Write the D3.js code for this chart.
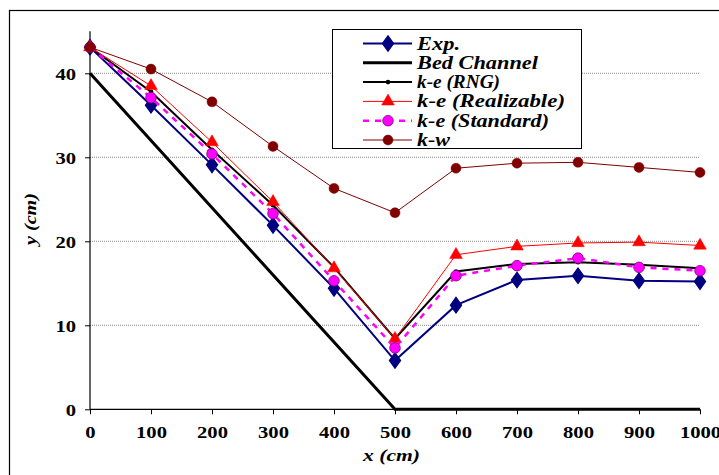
<!DOCTYPE html>
<html><head><meta charset="utf-8">
<script src="https://cdn.jsdelivr.net/npm/d3@7"></script>
<style>body{margin:0;background:#fff}svg{display:block}</style>
</head><body>
<script>
const xValues = [0,100,200,300,400,500,600,700,800,900,1000];
const expValues = [43.1,36.2,29.1,21.9,14.4,5.8,12.4,15.4,15.9,15.3,15.2];
const bedX = [0,500,1000];
const bedValues = [40,0,0];
const rngValues = [43.1,37.8,30.9,24.3,16.9,8.4,16.4,17.3,17.5,17.2,16.8];
const realizableValues = [43.1,38.5,31.8,24.7,16.8,8.4,18.4,19.4,19.8,19.9,19.5];
const standardValues = [43.1,37.1,30.4,23.3,15.3,7.3,15.9,17.1,18.0,16.9,16.5];
const kwValues = [43.1,40.5,36.6,31.3,26.3,23.4,28.7,29.3,29.4,28.8,28.2];
const xTicks = [0,100,200,300,400,500,600,700,800,900,1000];
const yTicks = [0,10,20,30,40];
const legendLabels = ["Exp.","Bed Channel","k-e (RNG)","k-e (Realizable)","k-e (Standard)","k-w"];

const W=719,H=475;
const FONT='"Liberation Serif"';
const svg=d3.select("body").append("svg").attr("width",W).attr("height",H);

// outer chart border
svg.append("rect").attr("x",9.5).attr("y",10.5).attr("width",W+20).attr("height",H+20)
  .attr("fill","none").attr("stroke","#000").attr("stroke-width",1.2);

const x=d3.scaleLinear().domain([0,1000]).range([90,700]);
const y=d3.scaleLinear().domain([0,45]).range([409.3,31.3]);

// gridlines
svg.append("g").selectAll("line").data(yTicks.filter(d=>d>0)).join("line")
  .attr("x1",x(0)).attr("x2",x(1000)).attr("y1",d=>y(d)).attr("y2",d=>y(d))
  .attr("stroke","#888").attr("stroke-width",1).attr("stroke-dasharray","1,1");

// axes
const yAxis=svg.append("g").attr("transform",`translate(${x(0)},0)`)
  .call(d3.axisLeft(y).tickValues(yTicks).tickSize(5).tickPadding(9).tickFormat(d3.format("d")));
const xAxis=svg.append("g").attr("transform",`translate(0,${y(0)})`)
  .call(d3.axisBottom(x).tickValues(xTicks).tickSize(5).tickPadding(12).tickFormat(d3.format("d")));
[yAxis,xAxis].forEach(a=>{
  a.select(".domain").attr("stroke","#000").attr("stroke-width",1.2);
  a.selectAll(".tick line").attr("stroke","#000").attr("stroke-width",1);
  a.selectAll("text").style("font-family",FONT).style("font-weight","bold").style("font-size","17px").attr("fill","#000")
    .attr("textLength",function(){return this.textContent.length*10.3;})
    .attr("lengthAdjust","spacingAndGlyphs");
});
yAxis.selectAll("text").attr("dy","0.36em");
yAxis.select(".domain").attr("d",`M0,${y(45)}V${y(0)}`);
xAxis.select(".domain").attr("d",`M${x(0)},0H${x(1000)}`);

svg.append("text").attr("x",391.5).attr("y",461).attr("text-anchor","middle")
  .style("font-family",FONT).style("font-weight","bold").style("font-style","italic").style("font-size","17px")
  .attr("textLength",57).attr("lengthAdjust","spacingAndGlyphs").text("x (cm)");
svg.append("text").attr("transform","translate(36,219) rotate(-90)").attr("text-anchor","middle")
  .style("font-family",FONT).style("font-weight","bold").style("font-style","italic").style("font-size","17px")
  .attr("textLength",52).attr("lengthAdjust","spacingAndGlyphs").text("y (cm)");

const line=d3.line().x(d=>x(d[0])).y(d=>y(d[1]));
const pts=vals=>xValues.map((v,i)=>[v,vals[i]]);

const series=[
  {vals:expValues,color:"#000080",w:2,dash:null,marker:"diamond"},
  {vals:null,color:"#000",w:3,dash:null,marker:null},
  {vals:rngValues,color:"#000",w:2,dash:null,marker:"dot"},
  {vals:realizableValues,color:"#FF0000",w:1,dash:null,marker:"triangle"},
  {vals:standardValues,color:"#FF00FF",w:2.5,dash:"6,6",marker:"circleM"},
  {vals:kwValues,color:"#800000",w:1,dash:null,marker:"circleK"}
];

function drawMarker(g,type,cx,cy){
  if(type==="diamond"){
    g.append("path").attr("d",d3.symbol(d3.symbolDiamond,70)()).attr("transform",`translate(${cx},${cy}) scale(1.25,1)`)
      .attr("fill","#000080").attr("stroke","#000080").attr("stroke-width",1);
  } else if(type==="dot"){
    g.append("circle").attr("cx",cx).attr("cy",cy).attr("r",2.3).attr("fill","#000");
  } else if(type==="triangle"){
    g.append("path").attr("d",d3.symbol(d3.symbolTriangle,70)()).attr("transform",`translate(${cx},${cy})`)
      .attr("fill","#FF0000").attr("stroke","#FF0000").attr("stroke-width",0.5);
  } else if(type==="circleM"){
    g.append("circle").attr("cx",cx).attr("cy",cy).attr("r",5.3).attr("fill","#FF00FF").attr("stroke","#800080").attr("stroke-width",0.8);
  } else if(type==="circleK"){
    g.append("circle").attr("cx",cx).attr("cy",cy).attr("r",5).attr("fill","#800000").attr("stroke","#800000").attr("stroke-width",0.5);
  }
}

series.forEach((s,i)=>{
  const g=svg.append("g");
  const data = s.vals ? pts(s.vals) : bedX.map((v,j)=>[v,bedValues[j]]);
  g.append("path").datum(data).attr("d",line).attr("fill","none").attr("stroke",s.color)
    .attr("stroke-width",s.w).attr("stroke-dasharray",s.dash).attr("stroke-linejoin","miter");
  if(s.marker) data.forEach(d=>drawMarker(g,s.marker,x(d[0]),y(d[1])));
});

// legend
const legendWidths=[43,121,83,148,132,33];
const lg=svg.append("g");
lg.append("rect").attr("x",332.5).attr("y",29.5).attr("width",249).attr("height",119)
  .attr("fill","#fff").attr("stroke","#000").attr("stroke-width",1);
legendLabels.forEach((lab,i)=>{
  const s=series[i];
  const yy=43.5+i*19.3;
  lg.append("line").attr("x1",363).attr("x2",412).attr("y1",yy).attr("y2",yy)
    .attr("stroke",s.color).attr("stroke-width",s.w).attr("stroke-dasharray",s.dash);
  if(s.marker) drawMarker(lg,s.marker,388,yy);
  lg.append("text").attr("x",417).attr("y",yy+6)
    .style("font-family",FONT).style("font-weight","bold").style("font-style","italic").style("font-size","18px")
    .attr("textLength",legendWidths[i]).attr("lengthAdjust","spacingAndGlyphs").text(lab);
});
</script>
</body></html>
